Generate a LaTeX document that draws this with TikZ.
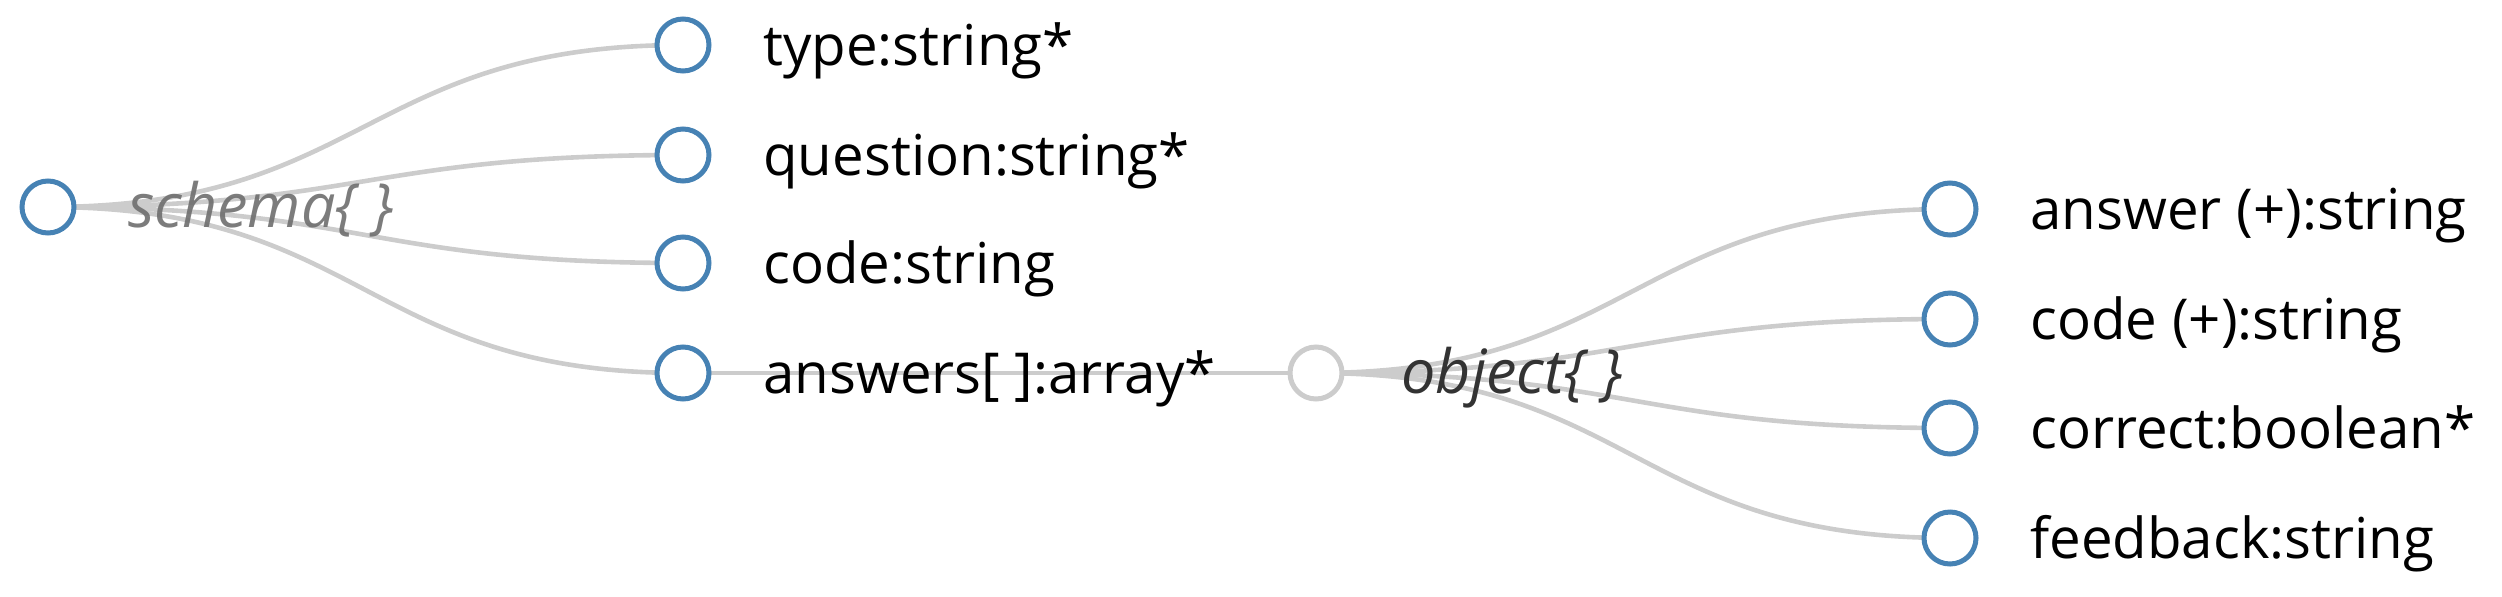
\documentclass[tikz,border=0pt]{standalone}
\usepackage{fontspec}
\setmainfont{Open Sans}
\usetikzlibrary{positioning,calc}
\definecolor{fieldBlue}{RGB}{70,130,180}
\definecolor{linkGray}{RGB}{204,204,204}
\definecolor{schemaGray}{RGB}{110,110,110}
\definecolor{objectGray}{RGB}{51,51,51}
\pgfdeclarelayer{background}
\pgfsetlayers{background,main}

\begin{document}
\begin{tikzpicture}[
  x=0.5pt, y=-0.5pt,
  field/.style={circle, draw=fieldBlue, line width=2.5pt, fill=white,
                minimum size=26pt, inner sep=0pt},
  hollow/.style={field, draw=linkGray},
  fieldtext/.style={anchor=base west, inner sep=0pt, font=\fontsize{28.2}{33}\selectfont},
  typetext/.style={fieldtext, font=\fontsize{30.5}{36}\selectfont\itshape},
  link/.style={draw=linkGray, line width=2.3pt, out=0, in=180, distance=158.75pt}
]
\useasboundingbox (0,0) rectangle (2502,596);

% root
\node[field] (root) at (48,207) {};
\node[typetext, text=schemaGray, opacity=0.9] (rootL) at ($(root)+(80,20)$) {schema\{ \}};

% first level
\node[field] (type) at (683,45) {};
\node[field] (question) at (683,155) {};
\node[field] (code) at (683,263) {};
\node[field] (answers) at (683,373) {};
\node[fieldtext] (typeL) at ($(type)+(80,20)$) {type:string*};
\node[fieldtext] (questionL) at ($(question)+(80,20)$) {question:string*};
\node[fieldtext] (codeL) at ($(code)+(80,20)$) {code:string};
\node[fieldtext] (answersL) at ($(answers)+(80,20)$) {answers[ ]:array*};

% array item
\node[hollow] (item) at (1316,373) {};
\node[typetext, text=objectGray] (itemL) at ($(item)+(85,20)$) {object\{ \}};

% second level
\node[field] (answer) at (1950,209) {};
\node[field] (icode) at (1950,319) {};
\node[field] (correct) at (1950,428) {};
\node[field] (feedback) at (1950,538) {};
\node[fieldtext] (answerL) at ($(answer)+(80,20)$) {answer (+):string};
\node[fieldtext] (icodeL) at ($(icode)+(80,20)$) {code (+):string};
\node[fieldtext] (correctL) at ($(correct)+(80,20)$) {correct:boolean*};
\node[fieldtext] (feedbackL) at ($(feedback)+(80,20)$) {feedback:string};

\begin{pgfonlayer}{background}
  \draw[link] (root.center) to (type.center);
  \draw[link] (root.center) to (question.center);
  \draw[link] (root.center) to (code.center);
  \draw[link] (root.center) to (answers.center);
  \draw[link] (answers.center) -- (item.center);
  \draw[link] (item.center) to (answer.center);
  \draw[link] (item.center) to (icode.center);
  \draw[link] (item.center) to (correct.center);
  \draw[link] (item.center) to (feedback.center);
\end{pgfonlayer}
\end{tikzpicture}
\end{document}
